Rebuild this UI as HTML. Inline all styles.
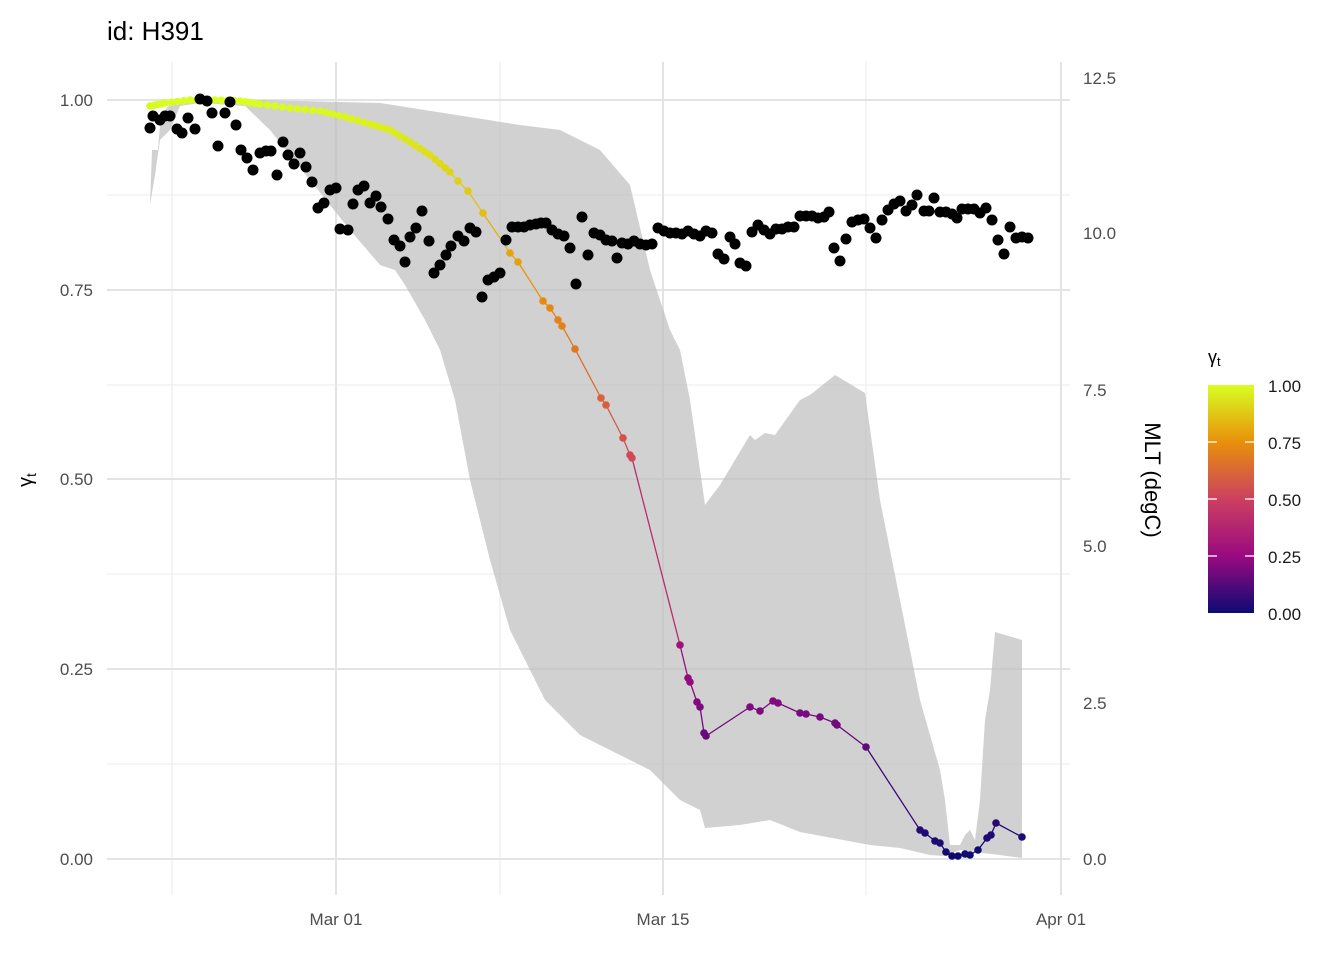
<!DOCTYPE html><html><head><meta charset="utf-8"><style>body{margin:0;background:#fff}svg{display:block;font-family:"Liberation Sans",Arial,sans-serif}</style></head><body>
<svg id="s" width="1344" height="960" viewBox="0 0 1344 960" xmlns="http://www.w3.org/2000/svg">
<defs><linearGradient id="cb" x1="0" y1="1" x2="0" y2="0">
<stop offset="0" stop-color="#0d0a73"/><stop offset="0.25" stop-color="#9a0a80"/><stop offset="0.5" stop-color="#cc4060"/><stop offset="0.75" stop-color="#e8900a"/><stop offset="1" stop-color="#d8ff22"/></linearGradient></defs>
<g stroke="#ebebeb" stroke-width="1"><line x1="107" x2="1070" y1="195" y2="195"/><line x1="107" x2="1070" y1="385" y2="385"/><line x1="107" x2="1070" y1="574" y2="574"/><line x1="107" x2="1070" y1="764" y2="764"/>
<line x1="172" x2="172" y1="62" y2="895"/><line x1="500" x2="500" y1="62" y2="895"/><line x1="866" x2="866" y1="62" y2="895"/></g>
<g stroke="#e3e3e3" stroke-width="2"><line x1="107" x2="1070" y1="100" y2="100"/><line x1="107" x2="1070" y1="290" y2="290"/><line x1="107" x2="1070" y1="479" y2="479"/><line x1="107" x2="1070" y1="669" y2="669"/><line x1="107" x2="1070" y1="859" y2="859"/>
<line x1="336" x2="336" y1="62" y2="895"/><line x1="663" x2="663" y1="62" y2="895"/><line x1="1061" x2="1061" y1="62" y2="895"/></g>
<polygon fill="#bdbdbd" fill-opacity="0.7" points="150,205 152,150 158,150 160,125 165,110 170,104 200,101 245,102 260,100 380,103 520,125 560,130 600,150 630,185 650,270 670,330 680,350 690,400 700,470 705,505 720,485 750,435 755,440 765,433 775,435 800,400 810,395 835,375 865,393 880,500 900,600 920,700 940,770 945,800 950,845 960,845 965,835 970,830 975,840 980,800 985,720 990,690 995,632 1022,640 1022,858 1000,855 975,852 960,850 945,856 930,855 900,848 870,845 800,832 770,820 740,825 705,828 700,810 680,800 650,770 600,745 580,735 545,700 510,630 490,560 470,480 455,400 440,350 425,320 405,285 395,270 380,265 350,230 310,180 270,130 245,106 200,103 180,106 170,130 160,140 155,175"/>
<g id="g"></g><g id="k" fill="#000"></g>
<g font-size="17" fill="#4d4d4d" text-anchor="end"><text x="93" y="106">1.00</text><text x="93" y="296">0.75</text><text x="93" y="485">0.50</text><text x="93" y="675">0.25</text><text x="93" y="865">0.00</text></g>
<g font-size="17" fill="#4d4d4d"><text x="1083" y="84">12.5</text><text x="1083" y="239">10.0</text><text x="1083" y="396">7.5</text><text x="1083" y="552">5.0</text><text x="1083" y="709">2.5</text><text x="1083" y="865">0.0</text></g>
<g font-size="17" fill="#4d4d4d" text-anchor="middle"><text x="336" y="925">Mar 01</text><text x="663" y="925">Mar 15</text><text x="1061" y="925">Apr 01</text></g>
<text x="107" y="40" font-size="26" fill="#000">id: H391</text>
<text transform="translate(32,480) rotate(-90)" font-size="20" text-anchor="middle">γ<tspan font-size="14" dy="4">t</tspan></text>
<text transform="translate(1145,480) rotate(90)" font-size="22" text-anchor="middle">MLT (degC)</text>
<text x="1208" y="363" font-size="18">γ<tspan font-size="13" dy="3">t</tspan></text>
<rect x="1208" y="385" width="46" height="228" fill="url(#cb)"/>
<g stroke="#fff" stroke-width="1.3"><line x1="1208" x2="1217" y1="442" y2="442"/><line x1="1245" x2="1254" y1="442" y2="442"/><line x1="1208" x2="1217" y1="499" y2="499"/><line x1="1245" x2="1254" y1="499" y2="499"/><line x1="1208" x2="1217" y1="556" y2="556"/><line x1="1245" x2="1254" y1="556" y2="556"/></g>
<g font-size="17" fill="#1a1a1a"><text x="1268" y="392">1.00</text><text x="1268" y="449">0.75</text><text x="1268" y="506">0.50</text><text x="1268" y="563">0.25</text><text x="1268" y="620">0.00</text></g>
</svg>
<script>
var G=[[150,106],[165,103],[190,100],[215,100],[240,101],[260,104],[290,108],[320,111],[345,117],[370,124],[390,130],[410,142],[430,155],[450,172],[458,181],[468,191],[483,213],[510,253],[518,262],[543,301],[550,308],[558,320],[562,326],[575,349],[601,398],[606,405],[623,438],[630,455],[632,458],[680,645],[688,678],[690,682],[697,702],[700,707],[704,733],[706,736],[750,707],[760,711],[773,701],[778,703],[800,713],[806,714],[820,717],[835,723],[837,725],[866,747],[920,830],[925,833],[935,841],[940,843],[946,852],[952,856],[958,856],[965,854],[970,855],[978,850],[987,838],[991,835],[996,823],[1022,837]];
var stops=[[0,[13,10,115]],[.25,[154,10,128]],[.5,[204,64,96]],[.75,[232,144,10]],[1,[216,255,34]]];
function col(y){var t=Math.max(0,Math.min(1,(859-y)/759));for(var i=0;i<4;i++){var a=stops[i],b=stops[i+1];if(t<=b[0]){var f=(t-a[0])/(b[0]-a[0]);return'rgb('+a[1].map((v,j)=>Math.round(v+(b[1][j]-v)*f)).join(',')+')';}}return'rgb(216,255,34)';}
var s='';for(var i=0;i<G.length-1;i++){s+='<line x1="'+G[i][0]+'" y1="'+G[i][1]+'" x2="'+G[i+1][0]+'" y2="'+G[i+1][1]+'" stroke="'+col((G[i][1]+G[i+1][1])/2)+'" stroke-width="1.3"/>';}
for(var i=0;i<G.length;i++){s+='<circle cx="'+G[i][0]+'" cy="'+G[i][1]+'" r="3.8" fill="'+col(G[i][1])+'"/>';}
// dense dots along early segment
for(var i=0;i<G.length-1&&G[i][0]<440;i++){var a=G[i],b=G[i+1];for(var f=0.25;f<1;f+=0.25){var x=a[0]+(b[0]-a[0])*f,y=a[1]+(b[1]-a[1])*f;s+='<circle cx="'+x.toFixed(1)+'" cy="'+y.toFixed(1)+'" r="3.8" fill="'+col(y)+'"/>';}}
document.getElementById('g').innerHTML=s;
var K=[[150,128],[153,116],[160,120],[165,116],[170,116],[177,129],[182,133],[188,118],[195,129],[200,99],[207,101],[212,113],[218,146],[225,113],[230,102],[236,125],[241,150],[247,158],[253,170],[260,153],[266,151],[271,151],[277,175],[283,142],[288,155],[294,164],[300,153],[306,167],[312,182],[318,208],[324,203],[330,190],[336,188],[340,229],[348,230],[353,204],[358,190],[364,186],[370,203],[376,196],[381,207],[388,219],[394,240],[400,246],[405,262],[410,237],[416,228],[422,211],[429,241],[434,273],[440,265],[446,255],[451,246],[458,236],[464,241],[470,228],[476,232],[482,297],[488,280],[494,277],[500,273],[506,240],[512,227],[518,227],[524,227],[530,225],[536,224],[541,223],[546,223],[552,230],[558,234],[564,236],[570,248],[576,284],[582,217],[588,255],[594,233],[600,235],[606,240],[612,241],[617,258],[622,243],[628,244],[634,241],[640,244],[646,245],[652,244],[658,228],[664,231],[670,233],[676,233],[682,234],[688,231],[694,234],[700,236],[706,231],[712,233],[718,254],[724,259],[730,237],[735,244],[740,263],[746,266],[752,232],[758,225],[764,230],[770,234],[776,229],[782,229],[788,227],[794,227],[800,216],[806,216],[812,216],[818,218],[824,217],[829,212],[834,248],[840,261],[846,239],[852,222],[858,220],[864,219],[870,228],[876,238],[882,220],[888,210],[894,204],[900,201],[906,211],[912,205],[917,195],[924,211],[929,211],[934,198],[940,212],[946,212],[952,214],[957,218],[962,209],[968,209],[974,209],[980,213],[986,208],[992,220],[998,240],[1004,254],[1010,227],[1016,238],[1022,237],[1028,238]];
var k='';K.forEach(function(p){k+='<circle cx="'+p[0]+'" cy="'+p[1]+'" r="5.5"/>';});
document.getElementById('k').innerHTML=k;
</script>
</body></html>
